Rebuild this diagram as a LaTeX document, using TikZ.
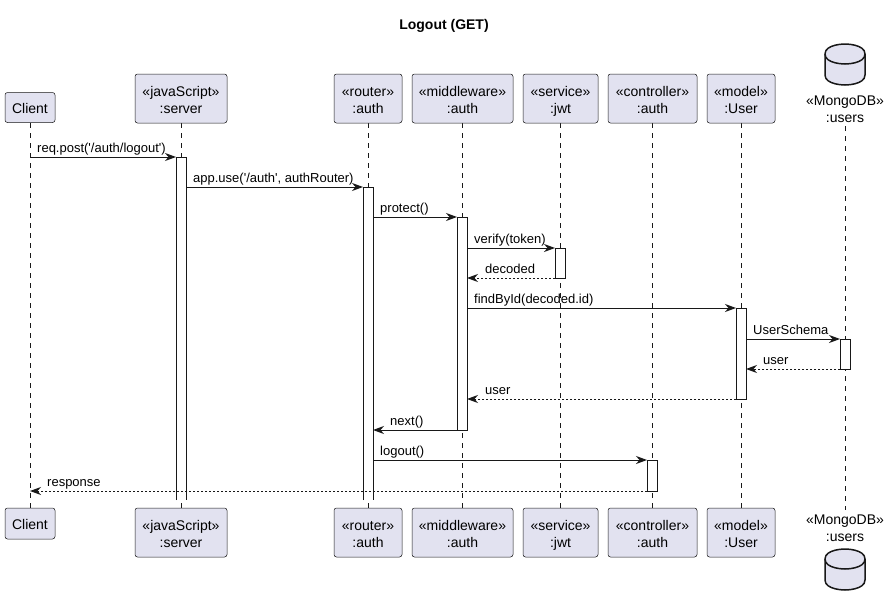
\documentclass[tikz,border=0pt]{standalone}
\usepackage{fontspec}
\newfontfamily\pfont{Liberation Sans}
\usetikzlibrary{arrows.meta}
\definecolor{pfill}{HTML}{E2E2F0}
\definecolor{pline}{HTML}{181818}
\tikzset{
 part/.style={draw=pline, line width=0.5pt, fill=pfill, rounded corners=2.5pt, inner sep=0pt},
 life/.style={draw=pline, line width=0.5pt, dash pattern=on 5pt off 5pt},
 actbar/.style={draw=pline, line width=1pt, fill=white},
 msg/.style={draw=pline, line width=1pt, -{Stealth[length=11pt,width=8pt,inset=3.5pt]}},
 ret/.style={msg, dash pattern=on 2pt off 2pt},
 ptxt/.style={font=\pfont\fontsize{14}{16}\selectfont, inner sep=0pt, anchor=base},
 mtxt/.style={font=\pfont\fontsize{13}{15}\selectfont, inner sep=0pt, anchor=base west},
 db/.style={draw=pline, line width=1.5pt, fill=pfill},
}
\newcommand{\dbshape}[2]{% left x, top y
 \draw[db] (#1,#2+10) .. controls (#1,#2) and (#1+20,#2) .. (#1+20,#2) .. controls (#1+20,#2) and (#1+40,#2) .. (#1+40,#2+10) -- (#1+40,#2+31) .. controls (#1+40,#2+41) and (#1+20,#2+41) .. (#1+20,#2+41) .. controls (#1+20,#2+41) and (#1,#2+41) .. (#1,#2+31) -- cycle;
 \draw[db,fill=none] (#1,#2+10) .. controls (#1,#2+20) and (#1+20,#2+20) .. (#1+20,#2+20) .. controls (#1+20,#2+20) and (#1+40,#2+20) .. (#1+40,#2+10);
}
\begin{document}
\begin{tikzpicture}[x=1pt,y=-1pt]
\useasboundingbox (0,0) rectangle (887,605);
\fill[white] (0,0) rectangle (887,605);
% title
\node[font=\pfont\fontsize{14}{16}\selectfont\bfseries, inner sep=0pt, anchor=base] (title) at (444,30) {Logout (GET)};

% lifelines
\draw[life] (30,123) -- (30,508);
\draw[life] (181,123) -- (181,508);
\draw[life] (368,123) -- (368,508);
\draw[life] (462,123) -- (462,508);
\draw[life] (560.5,123) -- (560.5,508);
\draw[life] (652.5,123) -- (652.5,508);
\draw[life] (741,123) -- (741,508);
\draw[life] (845,126) -- (845,510);

% top participants
\node[part, minimum width=50pt, minimum height=30pt] (pClientT) at (30,107.5) {};
\node[ptxt] (tClientT) at (30,113) {Client};
\node[part, minimum width=92pt, minimum height=49pt] (pServerT) at (181,98.5) {};
\node[ptxt] (tServerT1) at (181,96) {«javaScript»};
\node[ptxt] (tServerT2) at (181,113) {:server};
\node[part, minimum width=68pt, minimum height=49pt] (pRouterT) at (368,98.5) {};
\node[ptxt] (tRouterT1) at (368,96) {«router»};
\node[ptxt] (tRouterT2) at (368,113) {:auth};
\node[part, minimum width=101pt, minimum height=49pt] (pMidT) at (462.5,98.5) {};
\node[ptxt] (tMidT1) at (462.5,96) {«middleware»};
\node[ptxt] (tMidT2) at (462.5,113) {:auth};
\node[part, minimum width=75pt, minimum height=49pt] (pJwtT) at (560.5,98.5) {};
\node[ptxt] (tJwtT1) at (560.5,96) {«service»};
\node[ptxt] (tJwtT2) at (560.5,113) {:jwt};
\node[part, minimum width=89pt, minimum height=49pt] (pCtrlT) at (652.5,98.5) {};
\node[ptxt] (tCtrlT1) at (652.5,96) {«controller»};
\node[ptxt] (tCtrlT2) at (652.5,113) {:auth};
\node[part, minimum width=68pt, minimum height=49pt] (pUserT) at (741,98.5) {};
\node[ptxt] (tUserT1) at (741,96) {«model»};
\node[ptxt] (tUserT2) at (741,113) {:User};
\dbshape{825}{44}
\node[ptxt] (tDbT1) at (845,105) {«MongoDB»};
\node[ptxt] (tDbT2) at (845,122) {:users};

% bottom participants
\node[part, minimum width=50pt, minimum height=31pt] (pClientB) at (30,523.5) {};
\node[ptxt] (tClientB) at (30,529) {Client};
\node[part, minimum width=92pt, minimum height=49pt] (pServerB) at (181,532.5) {};
\node[ptxt] (tServerB1) at (181,530) {«javaScript»};
\node[ptxt] (tServerB2) at (181,547) {:server};
\node[part, minimum width=68pt, minimum height=49pt] (pRouterB) at (368,532.5) {};
\node[ptxt] (tRouterB1) at (368,530) {«router»};
\node[ptxt] (tRouterB2) at (368,547) {:auth};
\node[part, minimum width=101pt, minimum height=49pt] (pMidB) at (462.5,532.5) {};
\node[ptxt] (tMidB1) at (462.5,530) {«middleware»};
\node[ptxt] (tMidB2) at (462.5,547) {:auth};
\node[part, minimum width=75pt, minimum height=49pt] (pJwtB) at (560.5,532.5) {};
\node[ptxt] (tJwtB1) at (560.5,530) {«service»};
\node[ptxt] (tJwtB2) at (560.5,547) {:jwt};
\node[part, minimum width=89pt, minimum height=49pt] (pCtrlB) at (652.5,532.5) {};
\node[ptxt] (tCtrlB1) at (652.5,530) {«controller»};
\node[ptxt] (tCtrlB2) at (652.5,547) {:auth};
\node[part, minimum width=68pt, minimum height=49pt] (pUserB) at (741,532.5) {};
\node[ptxt] (tUserB1) at (741,530) {«model»};
\node[ptxt] (tUserB2) at (741,547) {:User};
\node[ptxt] (tDbB1) at (845,524) {«MongoDB»};
\node[ptxt] (tDbB2) at (845,541) {:users};
\dbshape{825}{549}

% activation bars
\fill[white] (176,157) rectangle (186,500);
\draw[pline, line width=1pt] (176,500) -- (176,157) -- (186,157) -- (186,500);
\fill[white] (363,187) rectangle (373,500);
\draw[pline, line width=1pt] (363,500) -- (363,187) -- (373,187) -- (373,500);
\draw[actbar] (457,217) rectangle (467,430);
\draw[actbar] (555,248) rectangle (565,278);
\draw[actbar] (736,308) rectangle (746,399);
\draw[actbar] (840,339) rectangle (850,369);
\draw[actbar] (647,460) rectangle (657,491);

% messages
\draw[msg] (30,157) -- (176,157);
\node[mtxt] (l1) at (37,152) {req.post('/auth/logout')};
\draw[msg] (186,187) -- (363,187);
\node[mtxt] (l2) at (193,182) {app.use('/auth', authRouter)};
\draw[msg] (373,217) -- (457,217);
\node[mtxt] (l3) at (380,212) {protect()};
\draw[msg] (467,248) -- (555,248);
\node[mtxt] (l4) at (474,243) {verify(token)};
\draw[ret] (555,278) -- (467,278);
\node[mtxt] (l5) at (485,273) {decoded};
\draw[msg] (467,308) -- (736,308);
\node[mtxt] (l6) at (474,303) {findById(decoded.id)};
\draw[msg] (746,339) -- (840,339);
\node[mtxt] (l7) at (753,334) {UserSchema};
\draw[ret] (840,369) -- (746,369);
\node[mtxt] (l8) at (763,364) {user};
\draw[ret] (736,399) -- (467,399);
\node[mtxt] (l9) at (485,394) {user};
\draw[msg] (457,430) -- (373,430);
\node[mtxt] (l10) at (390,425) {next()};
\draw[msg] (373,460) -- (647,460);
\node[mtxt] (l11) at (380,455) {logout()};
\draw[ret] (647,491) -- (30,491);
\node[mtxt] (l12) at (47,486) {response};
\end{tikzpicture}
\end{document}
